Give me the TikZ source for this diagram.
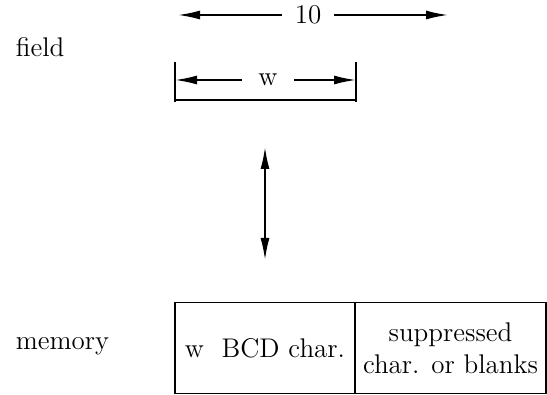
\documentclass[tikz,border=0pt]{standalone}
\usepackage{color}
\usepackage{tikz}
\usetikzlibrary{arrows.meta}

\begin{document}
\begin{tikzpicture}[x=0.5pt,y=-0.5pt,line width=0.9pt]
      \tikzstyle{every node}=[inner sep=0pt,font=\fontsize{13.5}{16}\selectfont]
      \tikzstyle{dim}=[{Latex[length=11pt,width=4.5pt]}-]
      \tikzstyle{cell}=[draw,minimum height=91*0.5pt,align=center]
      \useasboundingbox (0,0) rectangle (547,395);

      \node[anchor=base west] (field) at (15,57) {field};
      \node[anchor=base west] (memory) at (15,350) {memory};

      % total width
      \node (ten) at (308,15) {10};
      \coordinate (tl) at (178,15);
      \coordinate (tr) at (448,15);
      \draw[dim] (tl) -- ([xshift=-6pt]ten.west);
      \draw[dim] (tr) -- ([xshift=6pt]ten.east);

      % field width
      \node (w) at (268,80) {w};
      \coordinate (wl) at (175,80);
      \coordinate (wr) at (356,80);
      \draw (175,62) -- (175,102);
      \draw (356,62) -- (356,102);
      \draw (175,100) -- (356,100);
      \draw[dim] (wl) -- ([xshift=-8pt]w.west);
      \draw[dim] (wr) -- ([xshift=8pt]w.east);

      % transfer
      \coordinate (up) at (265,147);
      \coordinate (down) at (265,260);
      \draw[{Latex[length=11pt,width=4.5pt]}-{Latex[length=11pt,width=4.5pt]}] (up) -- (down);

      % memory cells
      \node[cell,minimum width=180*0.5pt] (bcd) at (265,348) {w\ \ BCD char.};
      \node[cell,minimum width=191*0.5pt] (sup) at (450.5,348) {suppressed\\char. or blanks};
\end{tikzpicture}
\end{document}
